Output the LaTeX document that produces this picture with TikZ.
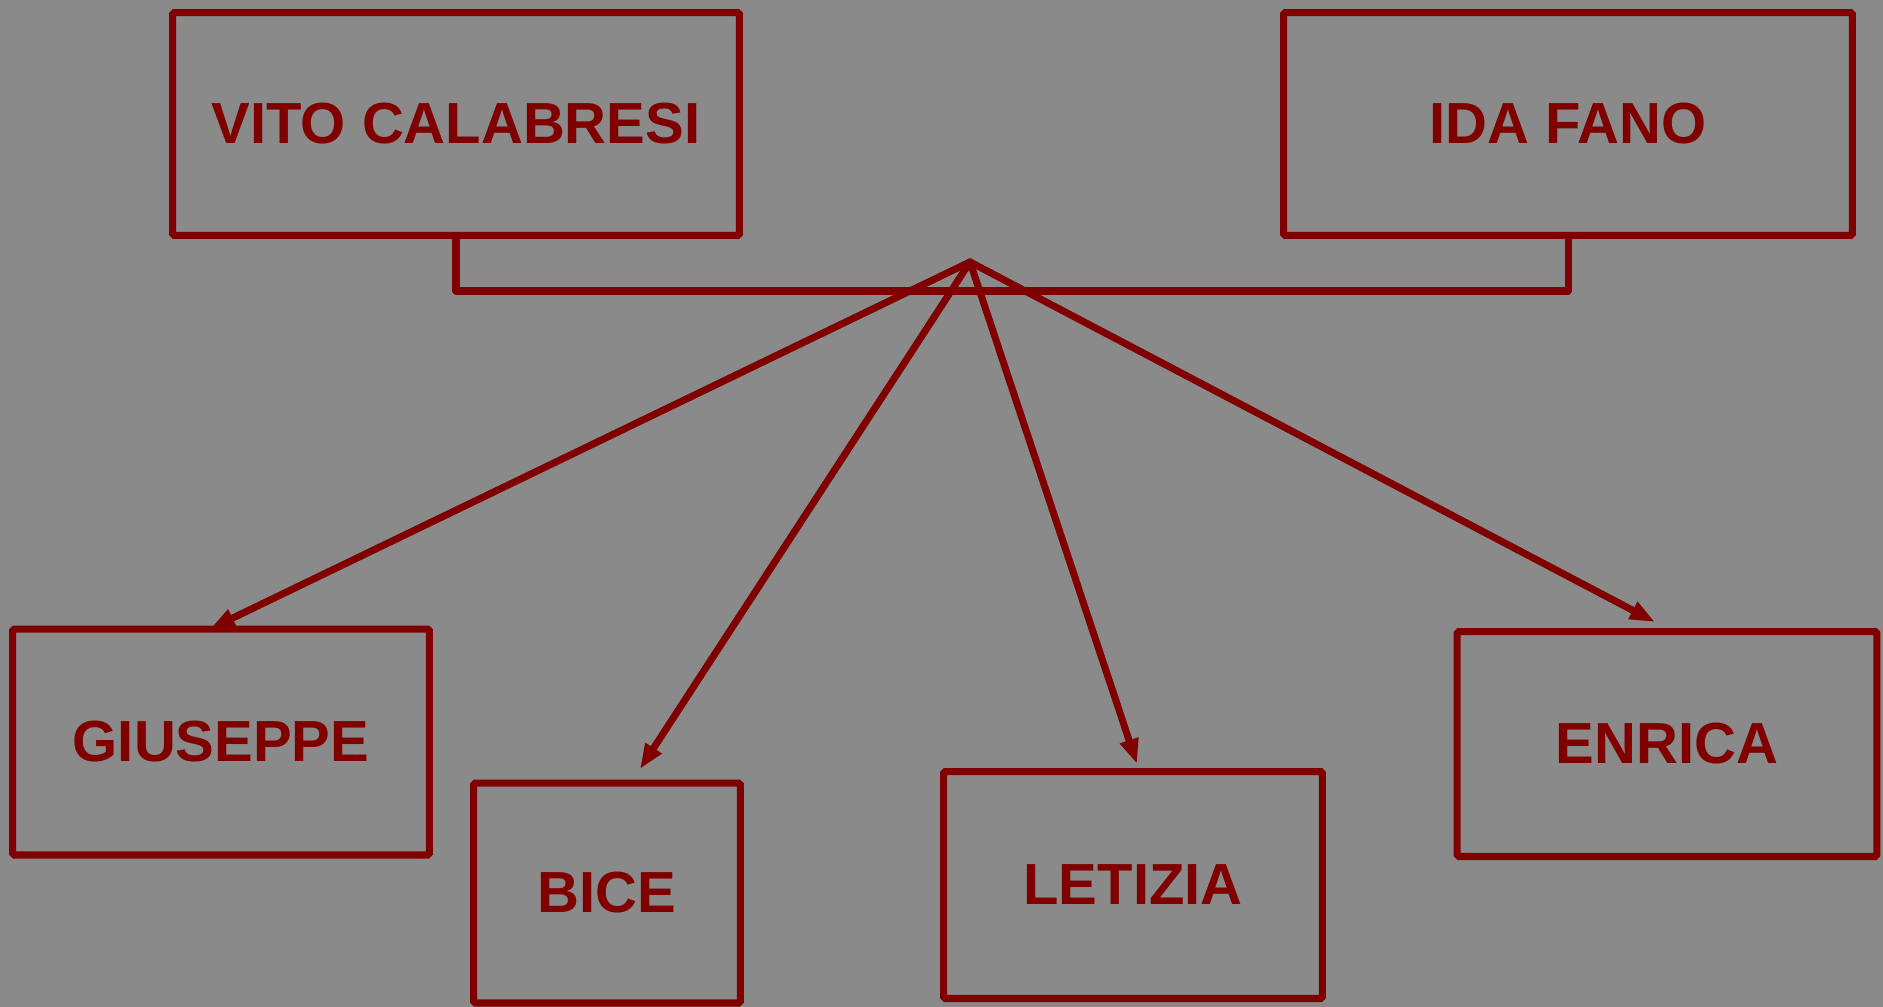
\documentclass[tikz,border=0pt]{standalone}
\usepackage{fontspec}
\setmainfont{Liberation Sans}
\usetikzlibrary{arrows.meta}
\definecolor{bgray}{RGB}{138,138,138}
\definecolor{dred}{RGB}{128,0,0}
\begin{document}
\begin{tikzpicture}[x=0.02cm,y=-0.02cm,
  person/.style={draw=dred, line width=4pt, text=dred, inner sep=0pt,
    font=\fontsize{33}{36}\selectfont\bfseries, rounded corners=1pt},
  link/.style={draw=dred, line width=4pt, line cap=round, line join=round},
  child/.style={link, -{Triangle[length=0.5cm,width=0.36cm]}}]
\fill[bgray] (0,0) rectangle (1883,1007);
\useasboundingbox (0,0) rectangle (1883,1007);
\node[person, minimum width=11.34cm, minimum height=4.46cm] (vito) at (456,124) {VITO CALABRESI};
\node[person, minimum width=11.38cm, minimum height=4.46cm] (ida) at (1568,124) {IDA FANO};
\node[person, minimum width=8.34cm, minimum height=4.52cm] (giu) at (221,742) {GIUSEPPE};
\node[person, minimum width=5.34cm, minimum height=4.40cm] (bice) at (607,893) {BICE};
\node[person, minimum width=7.58cm, minimum height=4.54cm] (let) at (1133,885) {LETIZIA};
\node[person, minimum width=8.40cm, minimum height=4.50cm] (enr) at (1667,744) {ENRICA};
\coordinate (apex) at (970,262);
\coordinate (tgiu) at (210,629);
\coordinate (tbice) at (640,769);
\coordinate (tlet) at (1137,764);
\coordinate (tenr) at (1655,622);
\draw[link] (vito.south) -- (vito.south |- 0,291) -- (ida.south |- 0,291) -- (ida.south);
\draw[child] (apex) -- (tgiu);
\draw[child] (apex) -- (tbice);
\draw[child] (apex) -- (tlet);
\draw[child] (apex) -- (tenr);
\end{tikzpicture}
\end{document}
